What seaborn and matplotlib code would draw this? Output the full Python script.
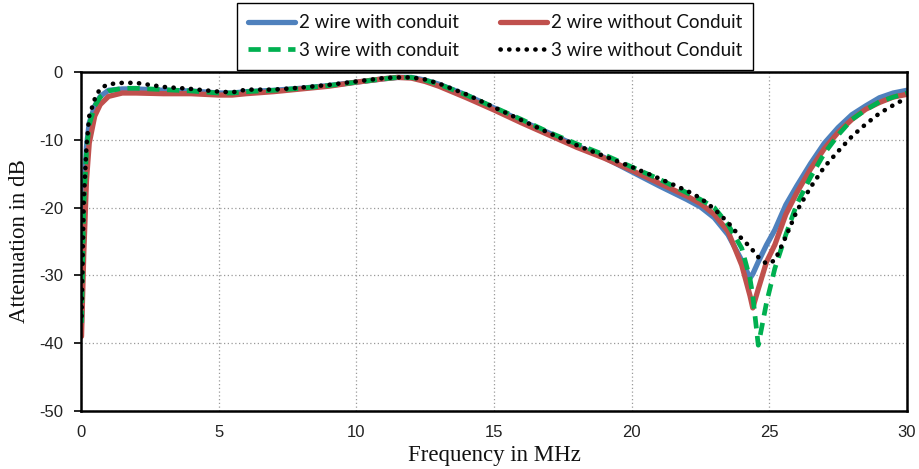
import numpy as np
import pandas as pd
import matplotlib
matplotlib.use("Agg")
import matplotlib.pyplot as plt
import seaborn as sns

# Frequency sample points (MHz)
freq = [0.02, 0.1, 0.2, 0.3, 0.5, 0.7, 1.0, 1.5, 2, 3, 4, 5, 5.5, 6, 7, 8, 9,
        10, 11, 11.5, 12, 12.5, 13, 14, 15, 16, 17, 18, 19, 20, 21, 22, 22.5,
        23, 23.5, 24.0, 24.3, 24.4, 24.6, 24.9, 25.2, 25.6, 26.0, 26.5, 27.0,
        27.5, 28.0, 28.5, 29.0, 29.5, 30.0]

# Attenuation (dB) for each cable configuration
two_wire_conduit = [-37, -19, -11, -7.5, -5.0, -3.6, -2.7, -2.5, -2.5, -2.7, -2.8,
                    -3.1, -3.1, -2.9, -2.7, -2.4, -2.0, -1.5, -1.0, -0.8, -0.8,
                    -1.2, -1.8, -3.4, -5.3, -7.2, -9.0, -10.9, -12.6, -14.7,
                    -16.8, -18.8, -19.9, -21.5, -24.0, -27.8, -30.4, -29.8,
                    -28.0, -25.5, -23.3, -19.6, -16.8, -13.5, -10.5, -8.2, -6.3,
                    -5.0, -3.8, -3.1, -2.7]
two_wire_no_conduit = [-39, -27, -16, -10.5, -6.5, -4.8, -3.6, -3.1, -3.1, -3.2,
                       -3.2, -3.4, -3.4, -3.2, -2.9, -2.5, -2.1, -1.5, -1.0,
                       -0.8, -0.9, -1.4, -2.1, -3.8, -5.6, -7.5, -9.3, -11.1,
                       -12.7, -14.5, -16.4, -18.3, -19.4, -21.0, -23.5, -28.5,
                       -33.0, -34.8, -32.0, -28.0, -25.5, -21.0, -17.8, -14.3,
                       -11.3, -8.9, -7.0, -5.5, -4.5, -3.7, -3.3]
three_wire_conduit = [-37, -20, -11.6, -7.8, -5.0, -3.7, -2.8, -2.4, -2.4, -2.6,
                      -2.8, -3.1, -3.1, -2.9, -2.7, -2.4, -2.0, -1.5, -1.0, -0.8,
                      -0.8, -1.2, -1.8, -3.4, -5.2, -7.0, -8.9, -10.6, -12.2,
                      -14.0, -15.8, -17.8, -18.8, -20.0, -22.5, -26.0, -30.5,
                      -33.0, -40.3, -34.0, -29.0, -24.0, -19.5, -15.5, -12.0,
                      -9.3, -7.0, -5.6, -4.4, -3.7, -3.1]
three_wire_no_conduit = [-36, -19, -11, -6.5, -4.0, -2.4, -1.8, -1.6, -1.6, -2.2,
                         -2.5, -2.9, -3.0, -2.6, -2.6, -2.3, -1.9, -1.4, -0.9,
                         -0.8, -0.8, -1.1, -1.7, -3.3, -5.2, -7.1, -9.0, -10.8,
                         -12.4, -14.0, -15.7, -17.5, -18.6, -20.2, -22.2, -24.6,
                         -25.8, -26.3, -27.3, -28.3, -27.8, -24.3, -20.5, -17.0,
                         -14.0, -11.7, -9.5, -7.7, -6.1, -4.9, -3.8]

labels = ["2 wire with conduit", "2 wire without Conduit",
          "3 wire with conduit", "3 wire without Conduit"]
colors = ["#4F81BD", "#C0504D", "#00B050", "#000000"]

df = pd.DataFrame({
    "freq": freq * 4,
    "att": two_wire_conduit + two_wire_no_conduit + three_wire_conduit + three_wire_no_conduit,
    "series": sum([[lab] * len(freq) for lab in labels], []),
})

sns.set_theme(style="white")
plt.rcParams["font.family"] = ["Liberation Sans", "DejaVu Sans"]
plt.rcParams["axes.unicode_minus"] = False

fig = plt.figure(figsize=(9.19, 4.69), dpi=100)
ax = fig.add_axes([0.0881, 0.1237, 0.8988, 0.7228])

styles = [
    dict(lw=3.8, ls="-", solid_capstyle="round"),
    dict(lw=3.8, ls="-", solid_capstyle="round"),
    dict(lw=3.4, ls=(0, (2.6, 1.6))),
    dict(lw=3.3, ls=(0, (0.05, 1.85)), dash_capstyle="round"),
]
for lab, col, st in zip(labels, colors, styles):
    sub = df[df["series"] == lab]
    sns.lineplot(data=sub, x="freq", y="att", ax=ax, color=col, label=lab,
                 estimator=None, sort=False, **st)

ax.set_xlim(0, 30)
ax.set_ylim(-50, 0)
ax.set_xticks([0, 5, 10, 15, 20, 25, 30])
ax.set_yticks([0, -10, -20, -30, -40, -50])
ax.grid(True, color="#9a9a9a", lw=0.9, ls=(0, (1, 2)))
for s in ax.spines.values():
    s.set_color("black")
    s.set_linewidth(1.8)
ax.tick_params(axis="y", length=5, width=1.2, color="black", pad=8,
               labelsize=12, labelcolor="#222222", direction="out", left=True)
ax.tick_params(axis="x", length=0, pad=10, labelsize=12, labelcolor="#222222")

serif = ["Liberation Serif", "DejaVu Serif"]
ax.set_xlabel("Frequency in MHz", family=serif, fontsize=16.5, color="#111111", labelpad=4)
ax.set_ylabel("Attenuation in dB", family=serif, fontsize=16.5, color="#111111", labelpad=6)

# Two-column legend above the plot, filled row by row
ax.get_legend().remove()
handles, hl = ax.get_legend_handles_labels()
order = [0, 2, 1, 3]
leg = fig.legend([handles[i] for i in order], [hl[i] for i in order],
                 loc="upper center", bbox_to_anchor=(495 / 919, 1 - 3 / 469),
                 borderaxespad=0, ncol=2, frameon=True, fancybox=False,
                 framealpha=1, edgecolor="black", handlelength=2.5,
                 handletextpad=0.2, columnspacing=2.2, labelspacing=0.55,
                 borderpad=0.6,
                 prop={"family": ["Lato", "DejaVu Sans"], "size": 13.5})
leg.get_frame().set_linewidth(1.0)
for t in leg.get_texts():
    t.set_color("#111111")

fig.savefig("out.png", dpi=100)
